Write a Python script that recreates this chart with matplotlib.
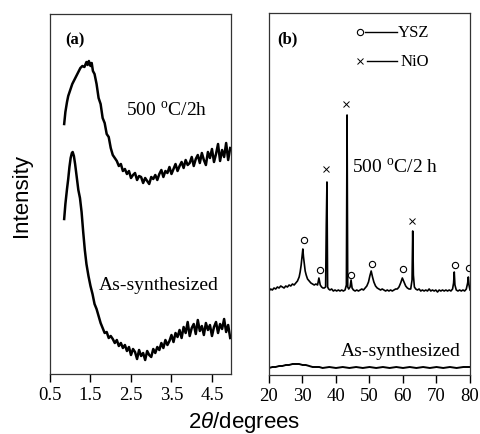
import matplotlib
matplotlib.use("Agg")
import matplotlib.pyplot as plt

plt.rcParams['mathtext.fontset'] = 'custom'
plt.rcParams['mathtext.rm'] = 'Liberation Serif'
plt.rcParams['mathtext.it'] = 'Liberation Sans:italic'

SERIF = 'Liberation Serif'
SANS = 'Liberation Sans'

# ---------------- Panel (a) data ----------------
a_top_x = [0.85, 0.88, 0.92, 0.95, 1.0, 1.05, 1.1, 1.15, 1.2, 1.25, 1.3, 1.35, 1.4, 1.43,
           1.46, 1.5, 1.53, 1.56, 1.6, 1.65, 1.7, 1.75, 1.8, 1.85, 1.9, 1.95, 2.0,
           2.05, 2.10, 2.15, 2.20, 2.25, 2.30, 2.35, 2.40, 2.45, 2.50, 2.55, 2.60, 2.65,
           2.70, 2.75, 2.80, 2.85, 2.90, 2.95, 3.00, 3.05, 3.10, 3.15, 3.20, 3.25, 3.30,
           3.35, 3.40, 3.45, 3.50, 3.55, 3.60, 3.65, 3.70, 3.75, 3.80, 3.85, 3.90, 3.95,
           4.00, 4.05, 4.10, 4.15, 4.20, 4.25, 4.30, 4.35, 4.40, 4.45, 4.50, 4.55, 4.60,
           4.65, 4.70, 4.75, 4.80, 4.85, 4.90, 4.95]
a_top_y = [250, 262, 272, 278, 284, 290, 294, 298, 302, 306, 308, 307, 312, 309,
           313, 308, 311, 303, 300, 290, 276, 270, 256, 251, 240, 237, 226,
           219, 216, 213, 208, 210, 203, 205, 200, 203, 196, 199, 201, 194,
           198, 197, 191, 196, 193, 190, 197, 195, 199, 194, 200, 204, 197,
           203, 201, 207, 200, 205, 210, 203, 208, 212, 206, 214, 209, 211,
           217, 208, 215, 219, 211, 221, 214, 209, 222, 216, 225, 212, 220,
           230, 213, 224, 217, 231, 214, 226]

a_bot_x = [0.85, 0.88, 0.92, 0.95, 0.98, 1.01, 1.04, 1.06, 1.09, 1.12, 1.16, 1.2, 1.24,
           1.28, 1.32, 1.36, 1.4, 1.45, 1.5, 1.55, 1.6, 1.65, 1.7, 1.75, 1.8, 1.85, 1.9,
           1.95, 2.0,
           2.05, 2.10, 2.15, 2.20, 2.25, 2.30, 2.35, 2.40, 2.45, 2.50, 2.55, 2.60, 2.65,
           2.70, 2.75, 2.80, 2.85, 2.90, 2.95, 3.00, 3.05, 3.10, 3.15, 3.20, 3.25, 3.30,
           3.35, 3.40, 3.45, 3.50, 3.55, 3.60, 3.65, 3.70, 3.75, 3.80, 3.85, 3.90, 3.95,
           4.00, 4.05, 4.10, 4.15, 4.20, 4.25, 4.30, 4.35, 4.40, 4.45, 4.50, 4.55, 4.60,
           4.65, 4.70, 4.75, 4.80, 4.85, 4.90, 4.95]
a_bot_y = [155, 170, 185, 195, 207, 216, 221, 222, 218, 210, 197, 184, 176,
           162, 142, 124, 110, 98, 88, 80, 70, 65, 58, 51, 46, 41, 42,
           36, 38,
           35, 31, 34, 28, 31, 26, 29, 23, 27, 19, 25, 22, 15,
           24, 18, 21, 14, 23, 19, 17, 25, 21, 27, 24, 31, 26,
           34, 29, 33, 39, 32, 41, 37, 44, 36, 47, 41, 52, 38,
           46, 50, 40, 54, 43, 48, 39, 51, 44, 49, 38, 47, 52,
           41, 50, 45, 55, 42, 49, 36]

a_xticks = [0.5, 1.5, 2.5, 3.5, 4.5]

# ---------------- Panel (b) data ----------------
b_top_x = [20, 20.5, 21, 21.5, 22, 22.5, 23, 23.5, 24, 24.5, 25, 25.5, 26, 26.5, 27, 27.5,
           28, 28.5, 29, 29.3, 29.6, 29.9, 30.1, 30.3, 30.5, 30.8, 31.1, 31.5, 32, 32.5,
           33, 33.5, 34, 34.5, 34.9, 35.3, 35.7, 36.1, 36.5, 36.9, 37.1, 37.3, 37.5,
           37.8, 38.2, 38.7, 39.2, 39.7, 40.2, 40.7, 41.2, 41.7, 42.2, 42.7, 43.1, 43.3,
           43.5, 43.8, 44.2, 44.5, 44.8, 45.2, 45.7, 46.2, 46.7, 47.2, 47.7, 48.2, 48.7,
           49.2, 49.7, 50.1, 50.5, 50.9, 51.3, 51.8, 52.3, 52.8, 53.3, 53.8, 54.3, 54.8,
           55.3, 55.8, 56.3, 56.8, 57.3, 57.8, 58.3, 58.8, 59.3, 59.8, 60.3, 60.8, 61.3,
           61.8, 62.3, 62.7, 62.9, 63.1, 63.4, 63.8, 64.3, 64.8, 65.3, 65.8, 66.3, 66.8,
           67.3, 67.8, 68.3, 68.8, 69.3, 69.8, 70.3, 70.8, 71.3, 71.8, 72.3, 72.8, 73.3,
           73.8, 74.3, 74.8, 75.1, 75.3, 75.5, 75.9, 76.4, 76.9, 77.4, 77.9, 78.4, 78.9,
           79.3, 79.5, 79.7, 80]
b_top_y = [84, 86, 85, 87, 86, 88, 87, 89, 88, 87, 89, 88, 90, 89, 91, 90,
           92, 94, 98, 103, 110, 120, 126, 118, 112, 104, 100, 96, 94, 92,
           91, 90, 91, 90, 97, 90, 88, 87, 87, 88, 150, 193, 88,
           86, 85, 86, 84, 85, 84, 85, 84, 85, 84, 85, 90, 260,
           88, 86, 88, 95, 87, 85, 84, 85, 84, 85, 86, 85, 87,
           89, 93, 99, 104, 98, 93, 89, 87, 86, 85, 86, 85, 84,
           85, 84, 85, 84, 85, 86, 86, 88, 92, 97, 93, 89, 87,
           86, 86, 95, 144, 100, 88, 86, 85, 86, 84, 85, 84, 85,
           84, 86, 84, 85, 84, 85, 83, 85, 84, 85, 84, 85, 84,
           85, 84, 86, 92, 103, 90, 85, 84, 85, 84, 85, 84, 86,
           92, 98, 90, 85]

b_bot_x = [20, 21, 22, 23, 24, 25, 26, 27, 28, 29, 30, 31, 32, 33, 34, 35, 36, 38, 40, 42,
           44, 46, 48, 50, 52, 54, 56, 58, 60, 62, 64, 66, 68, 70, 72, 74, 76, 78, 80]
b_bot_y = [7, 8, 8, 9, 9, 10, 10, 11, 11, 11, 10, 10, 9, 8, 8, 8, 7, 8, 7, 8,
           7, 8, 7, 8, 7, 8, 7, 8, 7, 8, 7, 8, 7, 8, 7, 8, 7, 8, 8]

ysz_x = [30.4, 35.2, 44.6, 50.6, 59.9, 75.6, 79.7]
ysz_y = [135, 105, 100, 111, 106, 110, 107]
nio_x = [36.9, 43.1, 62.7]
nio_y = [206, 271, 154]

b_xticks = [20, 30, 40, 50, 60, 70, 80]

# ---------------- Figure ----------------
fig = plt.figure(figsize=(4.81, 4.35), dpi=100)
axa = fig.add_axes([50/481, 60/435, 181/481, 360/435])
axb = fig.add_axes([269/481, 59/435, 201/481, 362/435])

lw_curve = 1.8
axa.plot(a_top_x, a_top_y, color='black', lw=lw_curve)
axa.plot(a_bot_x, a_bot_y, color='black', lw=lw_curve)
axa.set_xlim(0.5, 4.97)
axa.set_ylim(0, 360)

axb.plot(b_top_x, b_top_y, color='black', lw=1.2)
axb.plot(b_bot_x, b_bot_y, color='black', lw=1.4)
axb.plot(ysz_x, ysz_y, linestyle='none', marker='o', ms=4.5, mfc='white',
         mec='black', mew=0.8)
axb.plot(nio_x, nio_y, linestyle='none', marker='x', ms=4, color='black', mew=0.7)
axb.set_xlim(20, 80)
axb.set_ylim(0, 362)

for ax, ticks in ((axa, a_xticks), (axb, b_xticks)):
    ax.set_yticks([])
    ax.set_xticks(ticks)
    ax.set_xticklabels([str(t) for t in ticks], fontfamily=SERIF, fontsize=13.5)
    ax.tick_params(axis='x', direction='out', length=6, width=1, pad=3)
    for s in ax.spines.values():
        s.set_linewidth(0.9)
        s.set_color('#333333')

# panel labels
axa.text(0.14, 0.93, '(a)', transform=axa.transAxes, fontfamily=SERIF,
         fontweight='bold', fontsize=12, ha='center', va='center')
axb.text(0.09, 0.93, '(b)', transform=axb.transAxes, fontfamily=SERIF,
         fontweight='bold', fontsize=12, ha='center', va='center')

# annotations
axa.text(2.37, 265, r'500 $^{\rm o}$C/2h', fontfamily=SERIF, fontsize=14,
         ha='left', va='center')
axa.text(1.7, 90, 'As-synthesized', fontfamily=SERIF, fontsize=14,
         ha='left', va='center')
axb.text(44.9, 209, r'500 $^{\rm o}$C/2 h', fontfamily=SERIF, fontsize=14,
         ha='left', va='center')
axb.text(41.3, 24, 'As-synthesized', fontfamily=SERIF, fontsize=14,
         ha='left', va='center')

# legend drawn in axes coordinates
tr = axb.transAxes
axb.plot([0.455], [0.948], transform=tr, marker='o', ms=4.5, mfc='white',
         mec='black', mew=0.8, linestyle='none')
axb.plot([0.48, 0.635], [0.948, 0.948], transform=tr, color='black', lw=1)
axb.text(0.64, 0.948, 'YSZ', transform=tr, fontfamily=SERIF, fontsize=12,
         ha='left', va='center')
axb.plot([0.455], [0.867], transform=tr, marker='x', ms=4, color='black',
         mew=0.7, linestyle='none')
axb.plot([0.49, 0.635], [0.867, 0.867], transform=tr, color='black', lw=1)
axb.text(0.655, 0.867, 'NiO', transform=tr, fontfamily=SERIF, fontsize=12,
         ha='left', va='center')

# axis labels
fig.text(22/481, 1 - 196/435, 'Intensity', rotation=90, fontfamily=SANS,
         fontsize=16, ha='center', va='center')
fig.text(244/481, 1 - 423/435, r'2$\theta$/degrees', fontfamily=SANS,
         fontsize=16, ha='center', va='center')

fig.savefig('out.png', dpi=100)
